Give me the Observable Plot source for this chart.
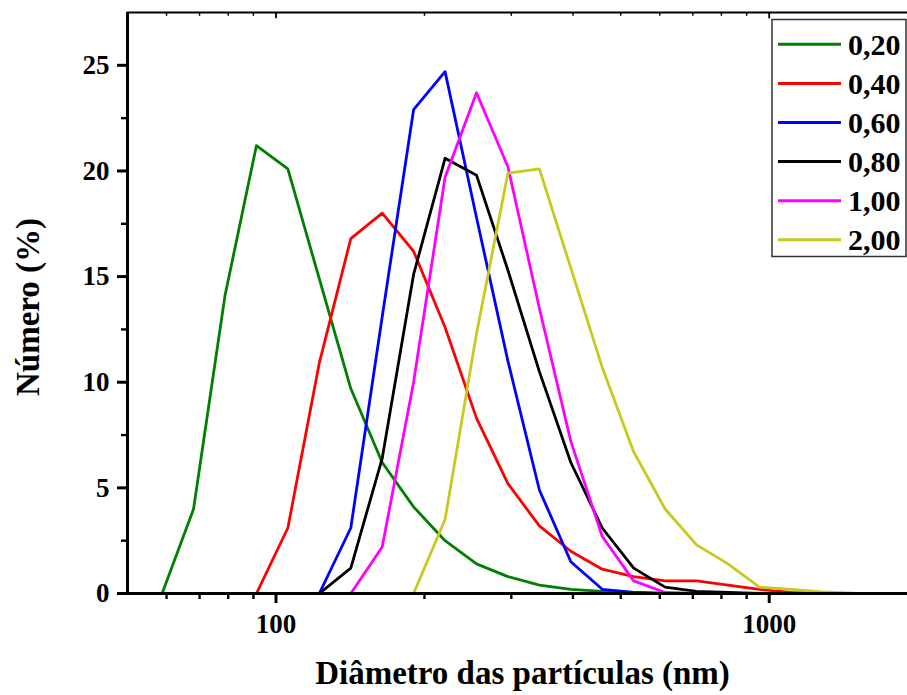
<!DOCTYPE html>
<html>
<head>
<meta charset="utf-8">
<script src="https://cdn.jsdelivr.net/npm/d3@7"></script>
<script src="https://cdn.jsdelivr.net/npm/@observablehq/plot@0.6"></script>
<style>
  html, body { margin: 0; padding: 0; background: #fff; }
  #wrap { position: relative; width: 907px; height: 695px; }
  #legend { position: absolute; left: 0; top: 0; }
</style>
</head>
<body>
<div id="wrap"></div>
<script>
// Particle size bins (nm)
const sizes = [43.82, 50.75, 58.77, 68.06, 78.82, 91.28, 105.7, 122.4, 141.8, 164.2, 190.1, 220.2, 255.0, 295.3, 342.0, 396.1, 458.7, 531.2, 615.1, 712.4, 825.0, 955.4, 1106, 1281, 1484, 1718, 1990, 2305];

const seriesNames = ["0,20", "0,40", "0,60", "0,80", "1,00", "2,00"];
const seriesColors = ["#007f00", "#ff0000", "#0000ff", "#000000", "#ff00ff", "#c8c81e"];

const v020 = [0, 0, 0, 4.0, 14.1, 21.2, 20.1, 14.9, 9.7, 6.2, 4.1, 2.5, 1.4, 0.8, 0.4, 0.2, 0.1, 0.05, 0, 0, 0, 0, 0, 0, 0, 0, 0, 0];
const v040 = [0, 0, 0, 0, 0, 0, 3.1, 10.9, 16.8, 18.0, 16.2, 12.6, 8.3, 5.2, 3.2, 2.0, 1.15, 0.8, 0.6, 0.6, 0.4, 0.2, 0.05, 0, 0, 0, 0, 0];
const v060 = [0, 0, 0, 0, 0, 0, 0, 0, 3.1, 13.1, 22.9, 24.7, 17.8, 11.0, 4.9, 1.5, 0.2, 0.05, 0, 0, 0, 0, 0, 0, 0, 0, 0, 0];
const v080 = [0, 0, 0, 0, 0, 0, 0, 0, 1.2, 6.4, 15.1, 20.6, 19.8, 15.3, 10.5, 6.2, 3.1, 1.2, 0.3, 0.1, 0.05, 0, 0, 0, 0, 0, 0, 0];
const v100 = [0, 0, 0, 0, 0, 0, 0, 0, 0, 2.2, 10.0, 19.7, 23.7, 20.2, 13.5, 7.2, 2.7, 0.6, 0.05, 0, 0, 0, 0, 0, 0, 0, 0, 0];
const v200 = [0, 0, 0, 0, 0, 0, 0, 0, 0, 0, 0, 3.5, 12.3, 19.9, 20.1, 15.4, 10.7, 6.7, 4.0, 2.3, 1.4, 0.3, 0.2, 0.08, 0.02, 0, 0, 0];

const seriesValues = [v020, v040, v060, v080, v100, v200];

const xMajor = [100, 1000];
const xMinor = [60, 70, 80, 90, 200, 300, 400, 500, 600, 700, 800, 900];
const yMajor = [0, 5, 10, 15, 20, 25];
const yMinor = [2.5, 7.5, 12.5, 17.5, 22.5];

const xTitle = "Diâmetro das partículas (nm)";
const yTitle = "Número (%)";

const xDomain = [50, 1907];
const yDomain = [0, 27.5];

const rows = [];
seriesNames.forEach((name, i) => {
  sizes.forEach((s, j) => rows.push({ size: s, value: seriesValues[i][j], series: name }));
});

const font = "'Liberation Serif', 'Times New Roman', serif";

const lineMarks = seriesNames.map((name, i) =>
  Plot.lineY(rows.filter(r => r.series === name), {
    x: "size", y: "value", stroke: seriesColors[i], strokeWidth: 2.8, clip: true
  })
);

const chart = Plot.plot({
  width: 907,
  height: 695,
  marginLeft: 127,
  marginRight: 0,
  marginTop: 12,
  marginBottom: 102,
  x: { type: "log", domain: xDomain },
  y: { domain: yDomain },
  style: { fontFamily: font, fontWeight: "bold", fontSize: "27px", color: "black", background: "white", overflow: "visible" },
  marks: [
    Plot.ruleY([yDomain[1]], { stroke: "black", strokeWidth: 1.8 }),
    Plot.ruleX(xMinor, { x: d => d, y1: yDomain[1], y2: yDomain[1] - 0.18, strokeWidth: 1.4 }),
    Plot.ruleX(xMajor, { x: d => d, y1: yDomain[1], y2: yDomain[1] - 0.3, strokeWidth: 1.8 }),
    ...lineMarks,
    Plot.axisX({ ticks: xMajor, tickSize: 10, tickPadding: 10, strokeWidth: 3, tickFormat: d => String(d), fontSize: 27, fontWeight: "bold", label: null }),
    Plot.axisX({ ticks: xMinor, tickSize: 6, strokeWidth: 2.4, tickFormat: () => "", label: null }),
    Plot.axisY({ ticks: yMajor, tickSize: 10, tickPadding: 8, strokeWidth: 3, tickFormat: d => String(d), fontSize: 27, fontWeight: "bold", label: null }),
    Plot.axisY({ ticks: yMinor, tickSize: 6, strokeWidth: 2.4, tickFormat: () => "", label: null }),
    Plot.ruleX([xDomain[0]], { stroke: "black", strokeWidth: 3 }),
    Plot.ruleY([0], { stroke: "black", strokeWidth: 3 }),
    Plot.text([xTitle], { frameAnchor: "bottom", dy: 90, dx: 5, fontSize: 33, fontWeight: "bold", fill: "black" }),
    Plot.text([yTitle], { frameAnchor: "left", textAnchor: "middle", rotate: -90, dx: -99, dy: 4, fontSize: 33, fontWeight: "bold", fill: "black" })
  ]
});

const wrap = document.getElementById("wrap");
wrap.appendChild(chart);

// Legend overlay
const ns = "http://www.w3.org/2000/svg";
const leg = document.createElementNS(ns, "svg");
leg.setAttribute("id", "legend");
leg.setAttribute("width", 907);
leg.setAttribute("height", 695);
leg.style.pointerEvents = "none";
const box = document.createElementNS(ns, "rect");
box.setAttribute("x", 772); box.setAttribute("y", 19.5);
box.setAttribute("width", 134); box.setAttribute("height", 237);
box.setAttribute("fill", "white"); box.setAttribute("stroke", "#333"); box.setAttribute("stroke-width", 1.5);
leg.appendChild(box);
seriesNames.forEach((name, i) => {
  const y = 44.3 + i * 39.1;
  const l = document.createElementNS(ns, "line");
  l.setAttribute("x1", 778); l.setAttribute("x2", 841);
  l.setAttribute("y1", y); l.setAttribute("y2", y);
  l.setAttribute("stroke", seriesColors[i]); l.setAttribute("stroke-width", 3);
  leg.appendChild(l);
  const t = document.createElementNS(ns, "text");
  t.setAttribute("x", 848); t.setAttribute("y", y + 10.5);
  t.setAttribute("font-family", font); t.setAttribute("font-weight", "bold");
  t.setAttribute("font-size", 30); t.setAttribute("fill", "black");
  t.textContent = name;
  leg.appendChild(t);
});
wrap.appendChild(leg);
</script>
</body>
</html>
